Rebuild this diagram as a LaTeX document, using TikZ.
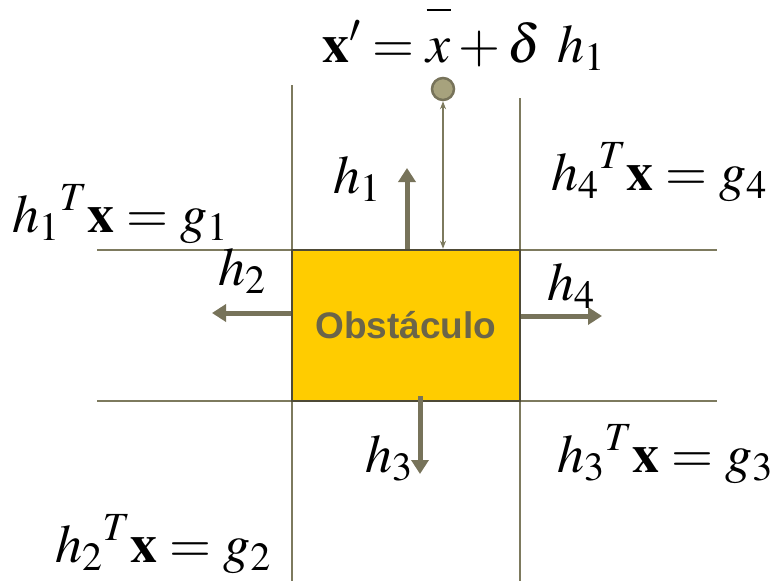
\documentclass[tikz,border=0pt]{standalone}
\usepackage{mathptmx}
\usepackage[no-math]{fontspec}
\setsansfont{Liberation Sans}
\usetikzlibrary{arrows.meta}
\definecolor{lineol}{HTML}{7D7A5E}
\definecolor{arrowol}{HTML}{77735A}
\definecolor{boxfill}{HTML}{FFCC00}
\definecolor{boxline}{HTML}{4E4A36}
\definecolor{dotfill}{HTML}{A7A27D}
\definecolor{textol}{HTML}{6B6549}

\begin{document}
\begin{tikzpicture}[x=1pt,y=-1pt,
    lbl/.style={anchor=base west,inner sep=0pt,font=\fontsize{54}{60}\selectfont},
    normal/.style={draw=arrowol,line width=5pt,-{Triangle[width=17pt,length=14pt]}},
    bound/.style={draw=lineol,line width=1.5pt}]
  \useasboundingbox (0,0) rectangle (772,581);
  % hyperplanes
  \draw[bound] (292,85) -- (292,581);
  \draw[bound] (520,98) -- (520,581);
  \draw[bound] (97,250) -- (717,250);
  \draw[bound] (97,401) -- (717,401);
  \node[draw=boxline,line width=2.5pt,fill=boxfill,
        minimum width=228pt,minimum height=151pt,
        font=\sffamily\bfseries\fontsize{37}{40}\selectfont,text=textol]
        (obst) at (406,325.5) {Obstáculo};
  % normals
  \coordinate (t1) at (407,168);
  \coordinate (t2) at (212,313);
  \coordinate (t3) at (420,474);
  \coordinate (t4) at (602,316);
  \draw[normal] (obst.north -| t1) -- (t1);
  \draw[normal] (obst.west |- t2) -- (t2);
  \draw[normal] ([yshift=6pt]obst.south -| t3) -- (t3);
  \draw[normal] (obst.east |- t4) -- (t4);
  \node[circle,draw=arrowol,line width=2.5pt,fill=dotfill,
        minimum size=22pt,inner sep=0pt] (xp) at (443,89) {};
  \draw[draw=lineol,line width=1.5pt,
        {Stealth[length=8pt,width=6pt]}-{Stealth[length=8pt,width=6pt]}]
        (xp.south) -- (obst.north -| xp.south);
  % labels
  \node[lbl] (eqx) at (322,62)
    {$\mathbf{x}'=\overline{\rule{0pt}{0.82em}x}+\delta\ h_1$};
  \node[lbl] (lh1) at (333,193) {$h_1$};
  \node[lbl] (lh2) at (218,285) {$h_2$};
  \node[lbl] (lh3) at (365,472) {$h_3$};
  \node[lbl] (lh4) at (547,300) {$h_4$};
  \node[lbl] (eq1) at (12,232) {${h_1}^T\mathbf{x}=g_1$};
  \node[lbl] (eq2) at (55,562) {${h_2}^T\mathbf{x}=g_2$};
  \node[lbl] (eq3) at (557,472) {${h_3}^T\mathbf{x}=g_3$};
  \node[lbl] (eq4) at (551,190) {${h_4}^T\mathbf{x}=g_4$};
\end{tikzpicture}
\end{document}
